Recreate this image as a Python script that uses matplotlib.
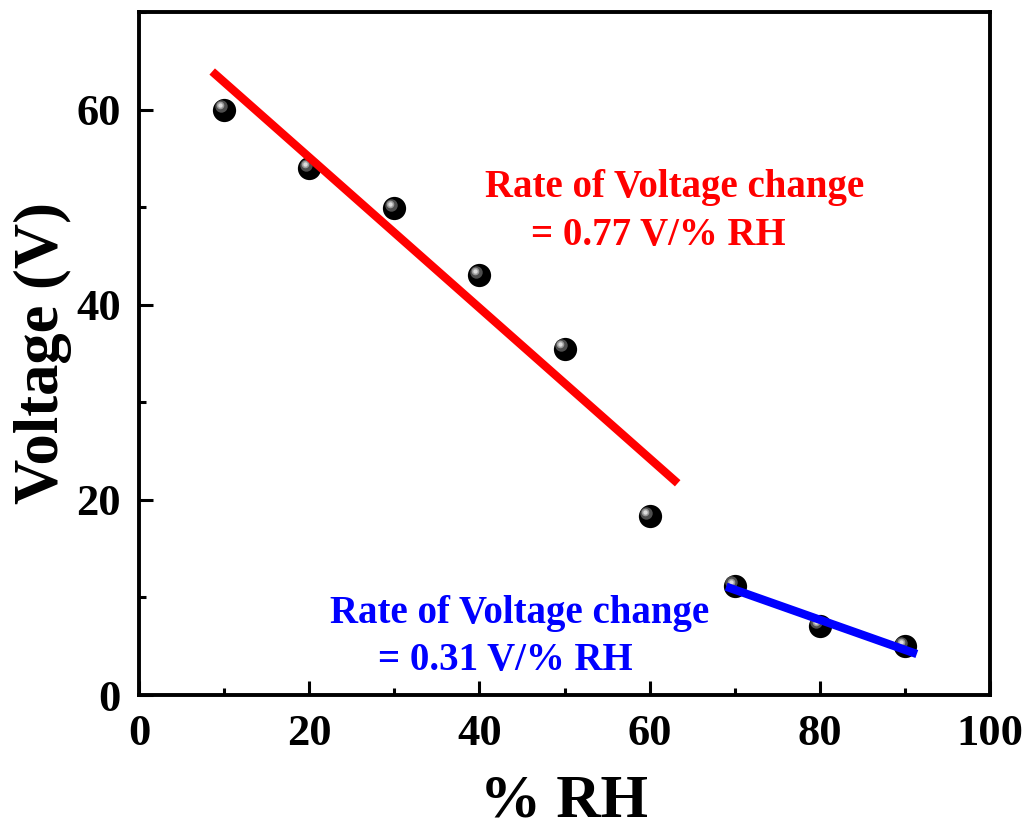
import matplotlib
matplotlib.use("Agg")
import matplotlib.pyplot as plt
from matplotlib.transforms import offset_copy
from matplotlib.ticker import MultipleLocator

rh = [10, 20, 30, 40, 50, 60, 70, 80, 90]
voltage = [60.0, 54.0, 49.9, 43.0, 35.5, 18.3, 11.2, 7.1, 5.0]

# fitted lines (end points)
red_fit_x = [8.6, 63.3]
red_fit_y = [63.9, 21.7]
blue_fit_x = [69.0, 91.4]
blue_fit_y = [11.1, 4.2]

red_text = ["Rate of Voltage change", "= 0.77 V/% RH"]
blue_text = ["Rate of Voltage change", "= 0.31 V/% RH"]

plt.rcParams["font.family"] = ["Liberation Serif", "DejaVu Serif"]
plt.rcParams["font.weight"] = "bold"

fig = plt.figure(figsize=(10.29, 8.30), dpi=100)
ax = fig.add_axes([139 / 1029, 1 - 695 / 830, (990 - 139) / 1029, (695 - 12) / 830])

# shaded balls: black disc plus offset grey highlights
ax.scatter(rh, voltage, s=280, color="black", zorder=3, linewidths=0)
hl1 = offset_copy(ax.transData, fig=fig, x=-2.5, y=2.5, units="points")
ax.scatter(rh, voltage, s=80, color="#4e4e4e", zorder=4, linewidths=0, transform=hl1)
hl2 = offset_copy(ax.transData, fig=fig, x=-3.0, y=3.0, units="points")
ax.scatter(rh, voltage, s=30, color="#9a9a9a", zorder=5, linewidths=0, transform=hl2)
ax.scatter(rh, voltage, s=10, color="#dcdcdc", zorder=5, linewidths=0, transform=hl2)

ax.plot(red_fit_x, red_fit_y, color="#ff0000", lw=6, solid_capstyle="butt", zorder=6)
ax.plot(blue_fit_x, blue_fit_y, color="#0000ff", lw=6, solid_capstyle="butt", zorder=6)

ax.text(40.6, 51.0, red_text[0], color="#ff0000", fontsize=28, fontweight="bold", va="baseline")
ax.text(46.1, 46.1, red_text[1], color="#ff0000", fontsize=28, fontweight="bold", va="baseline")
ax.text(22.5, 7.35, blue_text[0], color="#0000ff", fontsize=28, fontweight="bold", va="baseline")
ax.text(28.1, 2.55, blue_text[1], color="#0000ff", fontsize=28, fontweight="bold", va="baseline")

ax.set_xlim(0, 100)
ax.set_ylim(0, 70)
ax.xaxis.set_major_locator(MultipleLocator(20))
ax.xaxis.set_minor_locator(MultipleLocator(10))
ax.yaxis.set_major_locator(MultipleLocator(20))
ax.yaxis.set_minor_locator(MultipleLocator(10))
ax.tick_params(which="major", direction="in", length=10, width=2.2, labelsize=32)
ax.tick_params(axis="x", which="major", pad=14)
ax.tick_params(axis="y", which="major", pad=13)
ax.tick_params(which="minor", direction="in", length=5, width=2.2)
for lab in ax.get_xticklabels() + ax.get_yticklabels():
    lab.set_fontweight("bold")
for sp in ax.spines.values():
    sp.set_linewidth(2.8)

ax.set_xlabel("% RH", fontsize=44, fontweight="bold", labelpad=14)
ax.set_ylabel("Voltage (V)", fontsize=45, fontweight="bold", labelpad=3)

fig.savefig("out.png", dpi=100)
